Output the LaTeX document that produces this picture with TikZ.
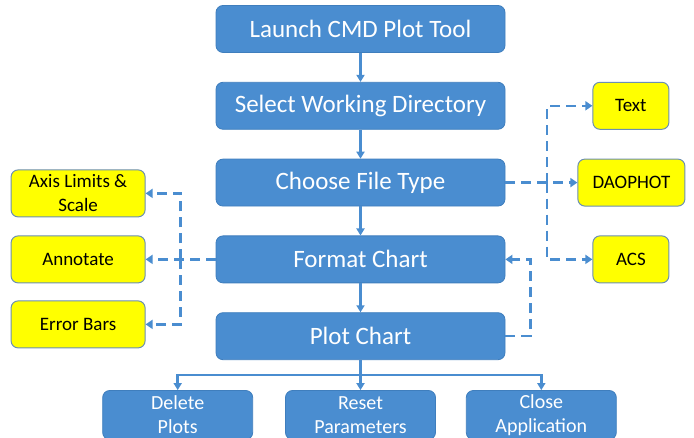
\documentclass[tikz,border=0pt]{standalone}
\usepackage{fontspec}
\setmainfont{Carlito}
\definecolor{StepBlue}{HTML}{4A8DD0}
\definecolor{StepEdge}{HTML}{3F7EBD}
\definecolor{OptYellow}{HTML}{FFFF00}
\definecolor{OptEdge}{HTML}{6B8FB3}
\usetikzlibrary{
  arrows.meta,
  positioning,
  calc
}

\begin{document}
\begin{tikzpicture}[
  x=1pt, y=1pt,
  node distance=29pt,
  stepbox/.style={
    rectangle, rounded corners=7pt,
    draw=StepEdge, fill=StepBlue, line width=0.8pt,
    minimum width=289pt, minimum height=47pt,
    font=\fontsize{25}{29}\selectfont, text=white,
    align=center
  },
  endbox/.style={
    stepbox, minimum width=150pt, minimum height=49pt,
    font=\fontsize{20}{24}\selectfont, inner sep=2pt
  },
  optbox/.style={
    rectangle, rounded corners=7pt,
    draw=OptEdge, fill=OptYellow, line width=1pt,
    minimum width=76pt, minimum height=47pt,
    font=\fontsize{19}{24}\selectfont, text=black,
    align=center, inner sep=2pt
  },
  arr/.style={
    -{Triangle[length=7pt,width=8pt]}, line width=2.5pt, StepBlue
  },
  dasharr/.style={
    -{Triangle[length=7pt,width=9pt]}, line width=2.5pt, StepBlue,
    dash pattern=on 10pt off 6pt
  }
]
  \useasboundingbox (0,0) rectangle (694,438);

  \node[stepbox] (launch) at (360.5,409) {Launch CMD Plot Tool};
  \node[stepbox, below=of launch] (select) {Select Working Directory};
  \node[stepbox, below=of select] (choose) {Choose File Type};
  \node[stepbox, below=of choose] (format) {Format Chart};
  \node[stepbox, below=of format] (plot) {Plot Chart};

  \node[endbox, below=30pt of plot] (reset) {Reset\\Parameters};
  \node[endbox, left=32pt of reset] (delete) {Delete\\Plots};
  \node[endbox, right=30pt of reset] (close) {Close\\Application};

  % file types
  \node[optbox, right=87pt of select] (text) {Text};
  \node[optbox, right=72pt of choose, minimum width=107pt] (daophot) {DAOPHOT};
  \node[optbox, right=87pt of format] (acs) {ACS};

  % chart options
  \node[optbox, left=70pt of format, minimum width=134pt] (annotate) {Annotate};
  \node[optbox, above=18pt of annotate, minimum width=134pt] (axis) {Axis Limits \&\\Scale};
  \node[optbox, below=17pt of annotate, minimum width=134pt] (errbars) {Error Bars};

  \draw[arr] (launch) -- (select);
  \draw[arr] (select) -- (choose);
  \draw[arr] (choose) -- (format);
  \draw[arr] (format) -- (plot);

  % split to the last steps
  \coordinate[below=15pt of plot.south] (split);
  \draw[arr] (plot.south) -- (reset.north);
  \draw[arr] (split) -| (delete.north);
  \draw[arr] (split) -| (close.north);

  % file type branches
  \coordinate (rbus) at ($(choose.east)!0.58!(daophot.west)$);
  \draw[dasharr] (choose.east) -- (daophot.west);
  \draw[dasharr] (rbus) |- (text.west);
  \draw[dasharr] (rbus) |- (acs.west);

  % chart option branches
  \coordinate (lbus) at ($(format.west)!0.5!(annotate.east)$);
  \draw[dasharr] (format.west) -- (annotate.east);
  \draw[dasharr] (lbus) |- (axis.east);
  \draw[dasharr] (lbus) |- (errbars.east);

  % back to formatting
  \draw[dasharr] (plot.east) -- ++(25,0) |- (format.east);
\end{tikzpicture}
\end{document}
